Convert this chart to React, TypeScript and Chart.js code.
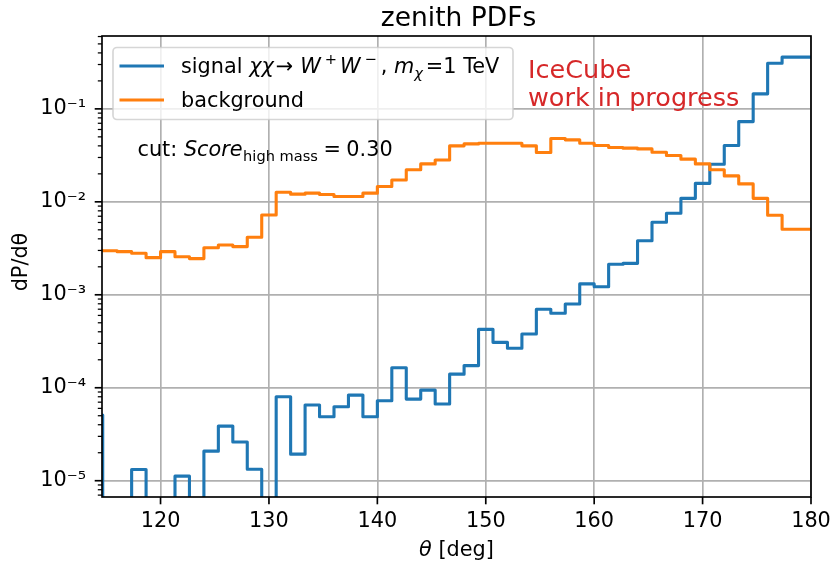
import React, { useEffect, useRef } from 'react';
import { Chart, registerables } from 'chart.js';

Chart.register(...registerables);

// ---- data ----
// histogram bins (width 4/3 deg); first bin starts just left of the visible range
const firstBinLowEdge = 113.3333333;
const binWidth = 4 / 3;
const xMin = 114.6;
const xMax = 180;
const xTickValues = [120, 130, 140, 150, 160, 170, 180];
const yTickValues = [1e-5, 1e-4, 1e-3, 1e-2, 1e-1];
const yTickLabels = ['10⁻⁵', '10⁻⁴', '10⁻³', '10⁻²', '10⁻¹'];
const yMin = 6.68e-6;
const yMax = 0.608;

const signalValues = [
  5.1e-5, 0, 0, 1.32e-5, 0, 0, 1.12e-5, 0, 2.08e-5, 3.87e-5,
  2.61e-5, 1.33e-5, 0, 8.0e-5, 1.93e-5, 6.52e-5, 4.88e-5, 6.25e-5, 8.34e-5, 4.88e-5,
  7.24e-5, 1.64e-4, 7.55e-5, 9.43e-5, 6.68e-5, 1.4e-4, 1.73e-4, 4.25e-4, 3.08e-4, 2.66e-4,
  3.79e-4, 6.98e-4, 6.32e-4, 7.96e-4, 1.31e-3, 1.22e-3, 2.13e-3, 2.18e-3, 3.82e-3, 6.02e-3,
  7.53e-3, 1.09e-2, 1.58e-2, 2.54e-2, 4.03e-2, 7.3e-2, 0.145, 0.31, 0.36, 0.36,
];
const backgroundValues = [
  3.0e-3, 2.98e-3, 2.91e-3, 2.8e-3, 2.51e-3, 2.91e-3, 2.57e-3, 2.45e-3, 3.21e-3, 3.43e-3,
  3.3e-3, 4.16e-3, 7.23e-3, 1.27e-2, 1.21e-2, 1.24e-2, 1.2e-2, 1.14e-2, 1.14e-2, 1.24e-2,
  1.46e-2, 1.72e-2, 2.21e-2, 2.56e-2, 2.82e-2, 4.0e-2, 4.2e-2, 4.27e-2, 4.27e-2, 4.27e-2,
  4.0e-2, 3.39e-2, 4.8e-2, 4.64e-2, 4.27e-2, 4.03e-2, 3.84e-2, 3.78e-2, 3.71e-2, 3.42e-2,
  3.15e-2, 2.88e-2, 2.56e-2, 2.21e-2, 1.9e-2, 1.56e-2, 1.09e-2, 7.17e-3, 5.07e-3, 5.07e-3,
];

const BLUE = '#1f77b4';
const ORANGE = '#ff7f0e';
const RED = '#d62728';
const FAM = '"DejaVu Sans"';
const FS = 20.8;
const FS_SMALL = 14.6;
const FS_TITLE = 26.5;
const FS_NOTE = 25.5;
const font = (size: number, italic = false) => `${italic ? 'italic ' : ''}${size}px ${FAM}`;

// step histogram points at left bin edges + closing right edge
function stepPoints(values: number[]) {
  const floor = 1e-9; // empty bins drop below the axis
  const pts = values.map((v, i) => ({ x: firstBinLowEdge + i * binWidth, y: v > 0 ? v : floor }));
  const last = values[values.length - 1];
  pts.push({ x: firstBinLowEdge + values.length * binWidth, y: last > 0 ? last : floor });
  return pts;
}

type Run = { t: string; f: string; dy?: number; dx?: number };
function runsWidth(ctx: CanvasRenderingContext2D, runs: Run[]) {
  let w = 0;
  for (const r of runs) {
    ctx.font = r.f;
    w += (r.dx || 0) + ctx.measureText(r.t).width;
  }
  return w;
}
function drawRuns(ctx: CanvasRenderingContext2D, x: number, y: number, runs: Run[], color: string) {
  ctx.fillStyle = color;
  ctx.textAlign = 'left';
  ctx.textBaseline = 'alphabetic';
  for (const r of runs) {
    ctx.font = r.f;
    x += r.dx || 0;
    ctx.fillText(r.t, x, y + (r.dy || 0));
    x += ctx.measureText(r.t).width;
  }
  return x;
}

const overlayPlugin = {
  id: 'overlay',
  afterDraw(chart: any) {
    const { ctx, chartArea: a, scales } = chart;
    const xs = scales.x;
    const ys = scales.y;
    ctx.save();
    const seg = (x1: number, y1: number, x2: number, y2: number) => {
      ctx.beginPath();
      ctx.moveTo(x1, y1);
      ctx.lineTo(x2, y2);
      ctx.stroke();
    };
    // frame (spines)
    ctx.strokeStyle = '#000';
    ctx.lineWidth = 1.67;
    ctx.strokeRect(a.left, a.top, a.right - a.left, a.bottom - a.top);
    // major ticks
    for (const v of xTickValues) {
      const px = xs.getPixelForValue(v);
      seg(px, a.bottom, px, a.bottom + 7.3);
    }
    for (const v of yTickValues) {
      const py = ys.getPixelForValue(v);
      seg(a.left - 7.3, py, a.left, py);
    }
    // minor ticks on log axis
    ctx.lineWidth = 1.25;
    const e0 = Math.floor(Math.log10(ys.min));
    const e1 = Math.ceil(Math.log10(ys.max));
    for (let e = e0; e <= e1; e++) {
      for (let m = 2; m <= 9; m++) {
        const v = m * Math.pow(10, e);
        if (v < ys.min || v > ys.max) continue;
        const py = ys.getPixelForValue(v);
        seg(a.left - 4.2, py, a.left, py);
      }
    }
    const cx = (a.left + a.right) / 2;

    // title
    ctx.fillStyle = '#000';
    ctx.font = font(FS_TITLE);
    ctx.textAlign = 'center';
    ctx.textBaseline = 'alphabetic';
    ctx.fillText('zenith PDFs', cx + 2, 26);

    // x label
    const xl: Run[] = [
      { t: 'θ', f: font(FS, true) },
      { t: ' [deg]', f: font(FS) },
    ];
    drawRuns(ctx, cx - runsWidth(ctx, xl) / 2, 556, xl, '#000');

    // y label
    ctx.save();
    ctx.translate(27, 262);
    ctx.rotate(-Math.PI / 2);
    ctx.font = font(FS);
    ctx.fillStyle = '#000';
    ctx.textAlign = 'center';
    ctx.textBaseline = 'alphabetic';
    ctx.fillText('dP/dθ', 0, 0);
    ctx.restore();

    // IceCube label
    ctx.font = font(FS_NOTE);
    ctx.fillStyle = RED;
    ctx.textAlign = 'left';
    ctx.fillText('IceCube', 528, 78);
    ctx.fillText('work in progress', 528, 106);

    // cut annotation
    const cut: Run[] = [
      { t: 'cut: ', f: font(FS) },
      { t: 'Score', f: font(FS, true) },
      { t: 'high mass', f: font(FS_SMALL), dy: 4.5, dx: 0.5 },
      { t: '=', f: font(FS), dx: 5.5 },
      { t: '0.30', f: font(FS), dx: 5.5 },
    ];
    drawRuns(ctx, 137.5, 156, cut, '#000');

    // legend
    const lx = 113, ly = 47.5, lw = 400, lh = 72;
    ctx.beginPath();
    (ctx as any).roundRect(lx, ly, lw, lh, 4);
    ctx.fillStyle = 'rgba(255,255,255,0.8)';
    ctx.fill();
    ctx.strokeStyle = 'rgba(204,204,204,0.8)';
    ctx.lineWidth = 1.67;
    ctx.stroke();
    ctx.lineWidth = 3.1;
    ctx.lineCap = 'butt';
    ctx.strokeStyle = BLUE;
    seg(119.5, 66, 164, 66);
    ctx.strokeStyle = ORANGE;
    seg(119.5, 100, 164, 100);
    const sig: Run[] = [
      { t: 'signal ', f: font(FS) },
      { t: 'χχ', f: font(FS, true) },
      { t: '→', f: font(FS), dx: 2 },
      { t: 'W', f: font(FS, true), dx: 7 },
      { t: '+', f: font(FS_SMALL), dy: -9, dx: 4 },
      { t: 'W', f: font(FS, true), dx: 3 },
      { t: '−', f: font(FS_SMALL), dy: -9, dx: 4 },
      { t: ', ', f: font(FS), dx: 4 },
      { t: 'm', f: font(FS, true) },
      { t: 'χ', f: font(FS_SMALL, true), dy: 4.5 },
      { t: '=1 TeV', f: font(FS), dx: 3 },
    ];
    drawRuns(ctx, 181, 73.3, sig, '#000');
    drawRuns(ctx, 181, 106.7, [{ t: 'background', f: font(FS) }], '#000');

    ctx.restore();
  },
};

export default function App() {
  const ref = useRef<HTMLCanvasElement | null>(null);
  useEffect(() => {
    document.body.style.margin = '0';
    const canvas = ref.current;
    if (!canvas) return;
    const tickFont = { family: 'DejaVu Sans', size: FS };
    const chart = new Chart(canvas, {
      type: 'line',
      data: {
        datasets: [
          {
            label: 'signal',
            data: stepPoints(signalValues),
            borderColor: BLUE,
            borderWidth: 3.1,
            stepped: 'before',
            pointRadius: 0,
            fill: false,
            clip: 0,
            order: 2,
            borderJoinStyle: 'round',
          },
          {
            label: 'background',
            data: stepPoints(backgroundValues),
            borderColor: ORANGE,
            borderWidth: 3.1,
            stepped: 'before',
            pointRadius: 0,
            fill: false,
            clip: 0,
            order: 1,
            borderJoinStyle: 'round',
          },
        ],
      } as any,
      options: {
        animation: false,
        responsive: false,
        events: [],
        layout: { padding: { top: 36, right: 20, left: 0, bottom: 0 } },
        plugins: {
          legend: { display: false },
          title: { display: false },
          tooltip: { enabled: false },
        },
        scales: {
          x: {
            type: 'linear',
            min: xMin,
            max: xMax,
            afterBuildTicks: (s: any) => {
              s.ticks = xTickValues.map((v) => ({ value: v }));
            },
            afterFit: (s: any) => {
              s.height = 70;
              s.paddingLeft = 0;
              s.paddingRight = 0;
            },
            grid: { color: '#b0b0b0', lineWidth: 1.67, drawTicks: false },
            border: { display: false },
            ticks: {
              padding: 12.5,
              font: tickFont,
              color: '#000',
              autoSkip: false,
              maxRotation: 0,
              callback: (v: any) => String(v),
            },
          },
          y: {
            type: 'logarithmic',
            min: yMin,
            max: yMax,
            afterBuildTicks: (s: any) => {
              s.ticks = yTickValues.map((v) => ({ value: v, major: true }));
            },
            afterFit: (s: any) => {
              s.width = 102;
              s.paddingTop = 0;
              s.paddingBottom = 0;
            },
            grid: { color: '#b0b0b0', lineWidth: 1.67, drawTicks: false },
            border: { display: false },
            ticks: {
              padding: 16,
              font: tickFont,
              color: '#000',
              autoSkip: false,
              callback: (v: any) => {
                const i = yTickValues.findIndex((t) => Math.abs(Math.log10(t) - Math.log10(Number(v))) < 1e-6);
                return i >= 0 ? yTickLabels[i] : '';
              },
            },
          },
        },
      } as any,
      plugins: [overlayPlugin],
    });
    return () => chart.destroy();
  }, []);
  return (
    <div style={{ position: 'fixed', left: 0, top: 0, width: 831, height: 567, background: '#fff' }}>
      <canvas ref={ref} width={831} height={567} style={{ display: 'block' }} />
    </div>
  );
}
